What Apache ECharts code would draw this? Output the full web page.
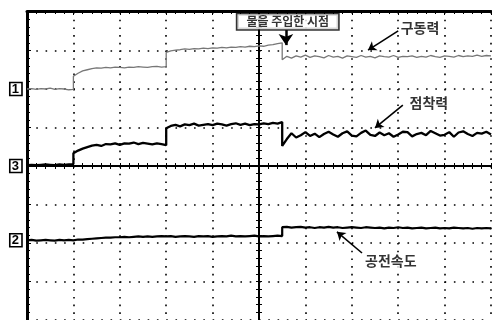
<!DOCTYPE html>
<html><head><meta charset="utf-8">
<script src="https://cdn.jsdelivr.net/npm/echarts@6/dist/echarts.min.js"></script>
<style>html,body{margin:0;padding:0;background:#fff}#c{width:492px;height:320px}</style>
</head><body><div id="c"></div>
<script>
// time axis in scope divisions (0..10), vertical in divisions (-4..4)
const xs = [0,0.1,0.2,0.3,0.4,0.5,0.6,0.7,0.8,0.9,1.0,
1.0,1.1,1.2,1.3,1.4,1.5,1.6,1.7,1.8,1.9,2.0,2.1,2.2,2.3,2.4,2.5,2.6,2.7,2.8,2.9,3.0,
3.0,3.1,3.2,3.3,3.4,3.5,3.6,3.7,3.8,3.9,4.0,4.1,4.2,4.3,4.4,4.5,4.6,4.7,4.8,4.9,5.0,5.1,5.2,5.3,5.4,5.5,
5.5,5.6,5.7,5.8,5.9,6.0,6.1,6.2,6.3,6.4,6.5,6.6,6.7,6.8,6.9,7.0,7.1,7.2,7.3,7.4,7.5,7.6,7.7,7.8,7.9,8.0,8.1,8.2,8.3,8.4,8.5,8.6,8.7,8.8,8.9,9.0,9.1,9.2,9.3,9.4,9.5,9.6,9.7,9.8,9.9,10.0];

// 구동력 (channel 1, grey)
const ch1 = [2.00,2.01,1.99,2.01,2.00,2.02,1.99,2.01,2.00,1.98,1.99,
2.33,2.41,2.47,2.50,2.53,2.55,2.54,2.56,2.55,2.57,2.56,2.55,2.57,2.56,2.58,2.57,2.56,2.58,2.59,2.57,2.58,
2.95,2.99,3.01,3.02,3.04,3.03,3.05,3.04,3.06,3.05,3.07,3.06,3.08,3.07,3.09,3.08,3.10,3.09,3.11,3.10,3.12,3.11,3.14,3.15,3.18,3.20,
2.76,2.85,2.80,2.86,2.83,2.88,2.82,2.86,2.84,2.81,
2.87,2.83,2.85,2.80,2.86,2.84,2.82,2.87,2.83,2.85,
2.81,2.86,2.84,2.83,2.87,2.82,2.85,2.84,2.86,2.82,
2.85,2.83,2.87,2.84,2.82,2.86,2.85,2.83,2.87,2.84,
2.86,2.85,2.88,2.85,2.87,2.86];

// 점착력 (channel 3)
const ch3 = [0.02,0.03,0.02,0.03,0.04,0.03,0.02,0.04,0.03,0.04,0.05,
0.33,0.40,0.45,0.49,0.53,0.55,0.52,0.57,0.56,0.59,0.55,0.59,0.58,0.61,0.57,0.60,0.58,0.56,0.59,0.57,0.54,
0.98,1.04,1.07,1.03,1.08,1.06,1.10,1.05,1.07,1.09,1.06,1.10,1.08,1.05,1.09,1.11,1.07,1.10,1.06,1.09,1.08,1.11,1.09,1.12,1.10,1.14,
0.52,0.70,0.85,0.74,0.80,0.88,0.78,0.84,0.75,0.83,
0.89,0.82,0.76,0.85,0.90,0.79,0.77,0.86,0.92,0.81,
0.78,0.87,0.80,0.85,0.76,0.82,0.89,0.88,0.77,0.83,
0.86,0.80,0.91,0.85,0.79,0.81,0.88,0.76,0.87,0.90,
0.83,0.78,0.86,0.84,0.89,0.82];

// 공전속도 (channel 2)
const ch2 = [-1.93,-1.92,-1.94,-1.93,-1.92,-1.93,-1.94,-1.92,-1.93,-1.92,-1.93,
-1.92,-1.91,-1.91,-1.90,-1.89,-1.88,-1.87,-1.86,-1.86,-1.85,-1.85,-1.84,-1.85,-1.84,-1.83,-1.84,-1.83,-1.84,-1.83,-1.82,-1.83,
-1.83,-1.82,-1.84,-1.83,-1.82,-1.83,-1.84,-1.82,-1.83,-1.82,-1.84,-1.83,-1.82,-1.83,-1.81,-1.83,-1.82,-1.83,-1.82,-1.81,-1.83,-1.82,-1.83,-1.82,-1.81,-1.82,
-1.59,-1.58,-1.60,-1.59,-1.58,-1.60,-1.59,-1.61,-1.59,-1.60,
-1.58,-1.60,-1.59,-1.61,-1.60,-1.59,-1.60,-1.61,-1.59,-1.60,
-1.61,-1.60,-1.62,-1.60,-1.61,-1.59,-1.61,-1.60,-1.62,-1.61,
-1.60,-1.62,-1.61,-1.60,-1.62,-1.61,-1.62,-1.60,-1.61,-1.62,
-1.61,-1.63,-1.61,-1.62,-1.61,-1.62];

// channel markers on the left
const markerVals = [2, 0, -1.93];
const markerNames = ['1', '3', '2'];

// annotations
const annoNames = ['물을 주입한 시점', '구동력', '점착력', '공전속도'];
const annoX = [5.62, 8.47, 8.66, 7.84];
const annoY = [3.75, 3.58, 1.64, -2.47];
// arrows: [x1, y1, x2(tip), y2(tip)]
const arrows = [
  [5.58, 3.53, 5.58, 3.14],
  [8.00, 3.51, 7.35, 3.01],
  [8.10, 1.58, 7.50, 0.99],
  [7.22, -2.26, 6.68, -1.71]
];

const toPairs = ys => xs.map((x, i) => [x, ys[i]]);
const FONT = '"Noto Sans CJK KR", sans-serif';

const dotH = {color: '#000', width: 1.6, type: [1.6, 7.68]}; // horizontal grid lines
const dotV = {color: '#000', width: 1.6, type: [1.6, 6.1]};  // vertical grid lines

const chart = echarts.init(document.getElementById('c'), null, {renderer: 'canvas'});
chart.setOption({
  animation: false,
  backgroundColor: '#fff',
  grid: {left: 27, top: 12, width: 464, height: 308, outerBoundsMode: 'none', containLabel: false},
  xAxis: [
    {
      type: 'value', min: 0, max: 10, interval: 1, position: 'bottom',
      axisLine: {show: true, onZero: true, onZeroAxisIndex: 0, lineStyle: {color: '#000', width: 2}},
      axisTick: {show: true, inside: false, length: 3, lineStyle: {color: '#000', width: 1}},
      minorTick: {show: true, splitNumber: 5, length: 3, lineStyle: {color: '#000', width: 1}},
      axisLabel: {show: false},
      splitLine: {show: true, lineStyle: dotV}
    },
    {
      type: 'value', min: 0, max: 10, interval: 1, position: 'bottom',
      axisLine: {show: false, onZero: true, onZeroAxisIndex: 0},
      axisTick: {show: true, inside: true, length: 3, lineStyle: {color: '#000', width: 1}},
      minorTick: {show: true, splitNumber: 5, length: 3, lineStyle: {color: '#000', width: 1}},
      axisLabel: {show: false}, splitLine: {show: false}
    },
    {
      type: 'value', min: 0, max: 10, interval: 1, position: 'top', offset: 1,
      axisLine: {show: true, onZero: false, lineStyle: {color: '#000', width: 3}},
      axisTick: {show: true, inside: true, length: 4, lineStyle: {color: '#000', width: 1}},
      minorTick: {show: true, splitNumber: 5, length: 3, lineStyle: {color: '#000', width: 1}},
      axisLabel: {show: false}, splitLine: {show: false}
    },
    {
      type: 'value', min: -5, max: 5, position: 'top',
      axisLine: {show: false, onZero: false}, axisTick: {show: false},
      axisLabel: {show: false}, splitLine: {show: false}
    }
  ],
  yAxis: [
    {
      type: 'value', min: -4, max: 4, interval: 1, position: 'left',
      axisLine: {show: true, onZero: false, lineStyle: {color: '#000', width: 3}},
      axisTick: {show: true, inside: true, length: 4, lineStyle: {color: '#000', width: 1}},
      minorTick: {show: true, splitNumber: 5, length: 3, lineStyle: {color: '#000', width: 1}},
      axisLabel: {
        show: true, customValues: markerVals, margin: 5,
        formatter: v => {
          for (let i = 0; i < markerVals.length; i++) {
            if (Math.abs(v - markerVals[i]) < 0.1) return markerNames[i];
          }
          return '';
        },
        color: '#000', fontSize: 13, fontWeight: 'bold', fontFamily: 'Liberation Sans',
        borderColor: '#000', borderWidth: 1.6, padding: [0, 3, 0, 2], lineHeight: 13
      },
      splitLine: {show: true, lineStyle: dotH}
    },
    {
      type: 'value', min: -4, max: 4, interval: 1, position: 'left',
      axisLine: {show: true, onZero: true, onZeroAxisIndex: 3, lineStyle: {color: '#000', width: 2}},
      axisTick: {show: true, inside: false, length: 3, lineStyle: {color: '#000', width: 1}},
      minorTick: {show: true, splitNumber: 5, length: 3, lineStyle: {color: '#000', width: 1}},
      axisLabel: {show: false}, splitLine: {show: false}
    },
    {
      type: 'value', min: -4, max: 4, interval: 1, position: 'left',
      axisLine: {show: false, onZero: true, onZeroAxisIndex: 3},
      axisTick: {show: true, inside: true, length: 3, lineStyle: {color: '#000', width: 1}},
      minorTick: {show: true, splitNumber: 5, length: 3, lineStyle: {color: '#000', width: 1}},
      axisLabel: {show: false}, splitLine: {show: false}
    }
  ],
  series: [
    {type: 'line', name: '구동력', data: toPairs(ch1), showSymbol: false, symbol: 'none',
     lineStyle: {color: '#777', width: 1.3}, z: 3},
    {type: 'line', name: '점착력', data: toPairs(ch3), showSymbol: false, symbol: 'none',
     lineStyle: {color: '#000', width: 2.3}, z: 3},
    {type: 'line', name: '공전속도', data: toPairs(ch2), showSymbol: false, symbol: 'none',
     lineStyle: {color: '#000', width: 2.2}, z: 3},
    {type: 'scatter', name: 'anno', symbolSize: 0, z: 5,
     data: annoNames.map((n, i) => ({
       name: n, value: [annoX[i], annoY[i]],
       label: i === 0 ? {
         show: true, position: 'inside', formatter: '{b}', color: '#000',
         fontSize: 12, fontWeight: 'bold', fontFamily: FONT,
         backgroundColor: '#fff', borderColor: '#000', borderWidth: 1.6, padding: [1, 9, 0, 9], lineHeight: 14
       } : {
         show: true, position: 'inside', formatter: '{b}', color: '#000',
         fontSize: 14, fontWeight: 'bold', fontFamily: FONT, backgroundColor: '#fff', padding: [0, 1]
       }
     })),
     markLine: {
       silent: true, symbol: ['none', 'arrow'], label: {show: false},
       lineStyle: {color: '#000', width: 1.5, type: 'solid'},
       data: arrows.map((a, i) => [
         {coord: [a[0], a[1]], lineStyle: {color: '#000', width: i === 0 ? 2.5 : 1.6, type: 'solid'}},
         {coord: [a[2], a[3]], symbolSize: i === 0 ? 11 : 8}
       ])
     }
    }
  ]
});
</script></body></html>
